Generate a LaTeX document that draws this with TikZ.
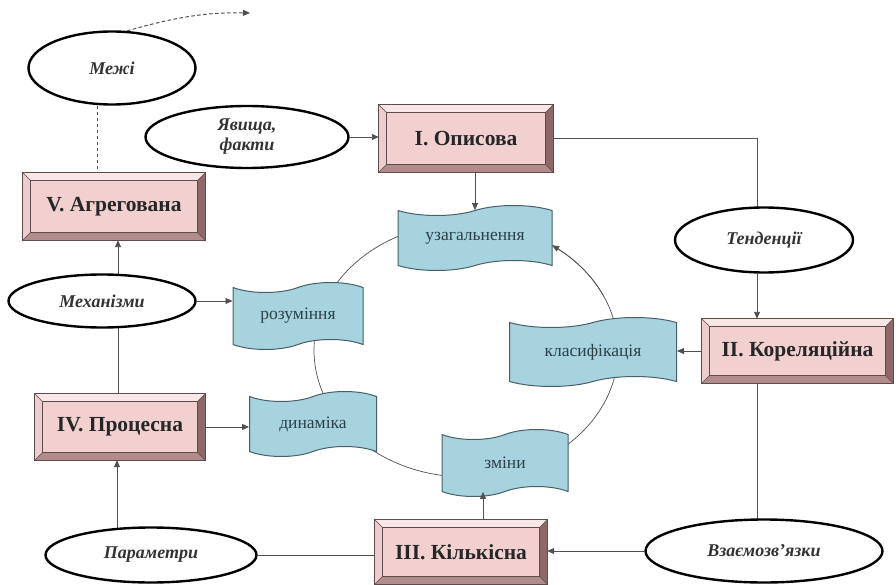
\documentclass[tikz,border=0pt]{standalone}
\usepackage{fontspec}
\setmainfont{Liberation Serif}
\usetikzlibrary{shapes.geometric,shapes.symbols,arrows.meta,calc}
\pgfdeclarelayer{bg}
\pgfsetlayers{bg,main}

\definecolor{face}{RGB}{242,208,208}
\definecolor{bevT}{RGB}{249,230,230}
\definecolor{bevL}{RGB}{236,204,204}
\definecolor{bevB}{RGB}{178,140,140}
\definecolor{bevR}{RGB}{140,104,104}
\definecolor{boxline}{RGB}{95,75,75}
\definecolor{wavefill}{RGB}{166,211,222}
\definecolor{waveline}{RGB}{70,95,105}
\definecolor{wavetext}{RGB}{45,65,75}
\definecolor{connc}{RGB}{80,80,80}

\tikzset{
 pbox/.style={rectangle, fill=face, inner sep=0pt, font=\fontsize{21.5}{24}\selectfont\bfseries, text=black!85},
 oval/.style={ellipse, draw=black, line width=2.4pt, fill=white, inner sep=0pt, font=\fontsize{18}{20}\selectfont\bfseries\itshape, text=black!80, align=center},
 wave/.style={tape, draw=waveline, line width=1pt, fill=wavefill, inner sep=0pt, font=\fontsize{17.5}{19}\selectfont, text=wavetext, tape bend height=10pt},
 conn/.style={draw=connc, line width=0.9pt},
 arr/.style={conn, -{Triangle[length=7pt,width=6pt]}},
 dashline/.style={conn, line width=1pt, dash pattern=on 3.5pt off 2.5pt},
}

\newcommand\bevbox[6]{%
 \node[pbox, minimum width=#4pt, minimum height=#5pt] (#1) at (#2,#3) {#6};
 \fill[bevT] (#1.north west) -- (#1.north east) -- ([shift={(-8,8)}]#1.north east) -- ([shift={(8,8)}]#1.north west) -- cycle;
 \fill[bevL] (#1.north west) -- (#1.south west) -- ([shift={(8,-8)}]#1.south west) -- ([shift={(8,8)}]#1.north west) -- cycle;
 \fill[bevB] (#1.south west) -- (#1.south east) -- ([shift={(-8,-8)}]#1.south east) -- ([shift={(8,-8)}]#1.south west) -- cycle;
 \fill[bevR] (#1.north east) -- (#1.south east) -- ([shift={(-8,-8)}]#1.south east) -- ([shift={(-8,8)}]#1.north east) -- cycle;
 \draw[boxline, line width=0.8pt] (#1.north west) rectangle (#1.south east);
 \draw[boxline, line width=0.8pt] ([shift={(8,8)}]#1.north west) rectangle ([shift={(-8,-8)}]#1.south east);
 \draw[boxline, line width=0.5pt] (#1.north west) -- ([shift={(8,8)}]#1.north west)
   (#1.north east) -- ([shift={(-8,8)}]#1.north east)
   (#1.south west) -- ([shift={(8,-8)}]#1.south west)
   (#1.south east) -- ([shift={(-8,-8)}]#1.south east);
}

\begin{document}
\begin{tikzpicture}[x=1pt,y=-1pt]
\useasboundingbox (0,0) rectangle (896,585);

% big cycle
\begin{pgfonlayer}{bg}
\draw[conn, line width=0.7pt] (466,350) ellipse [x radius=152, y radius=127];
\end{pgfonlayer}

% boxes
\bevbox{I}{466}{138.5}{174}{67}{I. Описова}
\bevbox{II}{797.5}{351}{191}{64}{II. Кореляційна}
\bevbox{III}{461}{552}{172}{64}{III. Кількісна}
\bevbox{IV}{120}{427}{170}{66}{IV. Процесна}
\bevbox{V}{114}{206.5}{182}{67}{V. Агрегована}

% ovals
\node[oval, minimum width=167pt, minimum height=73pt] (meji) at (112,68) {Межі};
\node[oval, minimum width=203pt, minimum height=62pt] (jav) at (247,137) {Явища,\\факти};
\node[oval, minimum width=178pt, minimum height=65pt] (ten) at (764,240) {Тенденції};
\node[oval, minimum width=187pt, minimum height=53pt] (mech) at (102,301) {Механізми};
\node[oval, minimum width=211pt, minimum height=55pt] (param) at (151,555) {Параметри};
\node[oval, minimum width=237pt, minimum height=63pt] (vz) at (764,551) {Взаємозв'язки};

% waves
\node[wave, minimum width=154pt, minimum height=65pt] (uzag) at (475,238) {узагальнення};
\node[wave, minimum width=130pt, minimum height=67pt] (roz) at (298,316) {розуміння};
\node[wave, minimum width=167pt, minimum height=69pt] (klas) at (593,352) {класифікація};
\node[wave, minimum width=127pt, minimum height=65pt] (dyn) at (313,424) {динаміка};
\node[wave, minimum width=126pt, minimum height=67pt] (zm) at (505,463) {зміни};

% arrow on the cycle towards узагальнення
\draw[conn, line width=0.7pt, -{Triangle[length=7pt,width=6pt]}]
  plot[domain=25:55.5, samples=30] ({466+152*cos(\x)}, {350-127*sin(\x)});

% connectors
\coordinate (dashend) at (250,13);
\draw[dashline, -{Triangle[length=7pt,width=6pt]}] (meji.68) .. controls (172,18) and (205,12) .. (dashend);
\begin{pgfonlayer}{bg}
\draw[dashline] (97,0 |- meji.south) -- (97,0 |- V.north);
\draw[conn] (I.east) -| (757,0 |- ten.center);
\draw[arr] (757,0 |- ten.south) -- (757,0 |- II.north);
\draw[conn] (757,0 |- II.south) -- (757,0 |- vz.center);
\draw[arr] (117,0 |- param.center) -- (117,0 |- IV.south);
\draw[conn] (118,0 |- IV.north) -- (118,0 |- mech.center);
\draw[arr] (118,0 |- mech.center) -- (118,0 |- V.south);
\end{pgfonlayer}
\draw[arr] (jav.east) -- (jav.east -| I.west);
\draw[arr] (II.west) -- (II.west -| klas.east);
\draw[arr] (vz.west) -- (vz.west -| III.east);
\draw[conn] (param.east) -- (param.east -| III.west);
\draw[arr] (mech.east) -- (mech.east -| roz.west);
\draw[arr] (IV.east) -- (IV.east -| dyn.west);
\draw[arr] (uzag.north |- I.south) -- (uzag.north);
\draw[arr] (483,0 |- III.north) -- (483,0 |- zm.south);
\end{tikzpicture}
\end{document}
